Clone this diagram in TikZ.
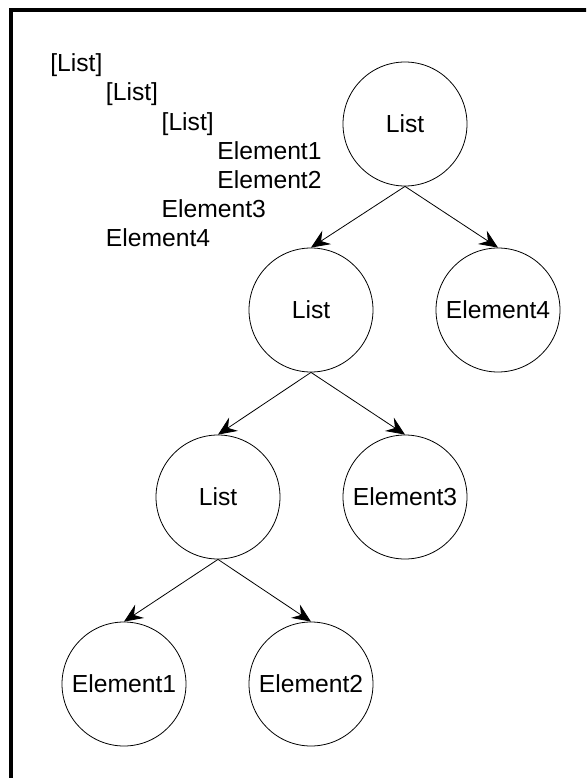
\documentclass[tikz,border=0pt]{standalone}
\usepackage{fontspec}
\setmainfont{Liberation Sans}
\usetikzlibrary{arrows.meta}

\tikzset{
  treenode/.style={draw, circle, line width=0.6pt, minimum size=93pt, inner sep=0pt},
  listline/.style={anchor=base west, inner sep=0pt},
  childarrow/.style={-{Stealth[length=14pt, width=12pt, inset=5pt]}, line width=0.6pt}
}

\begin{document}
\begin{tikzpicture}[x=0.75pt, y=-0.75pt, font=\fontsize{18.5pt}{22pt}\selectfont]
\clip (0,0) rectangle (586,778);
\draw[line width=2.5pt] (11,800) -- (11,10) -- (600,10);
% nested text form
\foreach \lvl/\txt [count=\i from 0] in {0/{[List]}, 1/{[List]}, 2/{[List]}, 3/Element1, 3/Element2, 2/Element3, 1/Element4}
  \node[listline] (line\i) at ({50+55.7*\lvl}, {71.7+29.2*\i}) {\txt};
% tree form
\node[treenode] (root) at (405,124) {List};
\node[treenode] (sub) at (311,310) {List};
\node[treenode] (el4) at (498,310) {Element4};
\node[treenode] (subsub) at (218,497) {List};
\node[treenode] (el3) at (405,497) {Element3};
\node[treenode] (el1) at (124,684) {Element1};
\node[treenode] (el2) at (311,684) {Element2};
\draw[childarrow] (root.south) -- (sub.north);
\draw[childarrow] (root.south) -- (el4.north);
\draw[childarrow] (sub.south) -- (subsub.north);
\draw[childarrow] (sub.south) -- (el3.north);
\draw[childarrow] (subsub.south) -- (el1.north);
\draw[childarrow] (subsub.south) -- (el2.north);
\end{tikzpicture}
\end{document}
